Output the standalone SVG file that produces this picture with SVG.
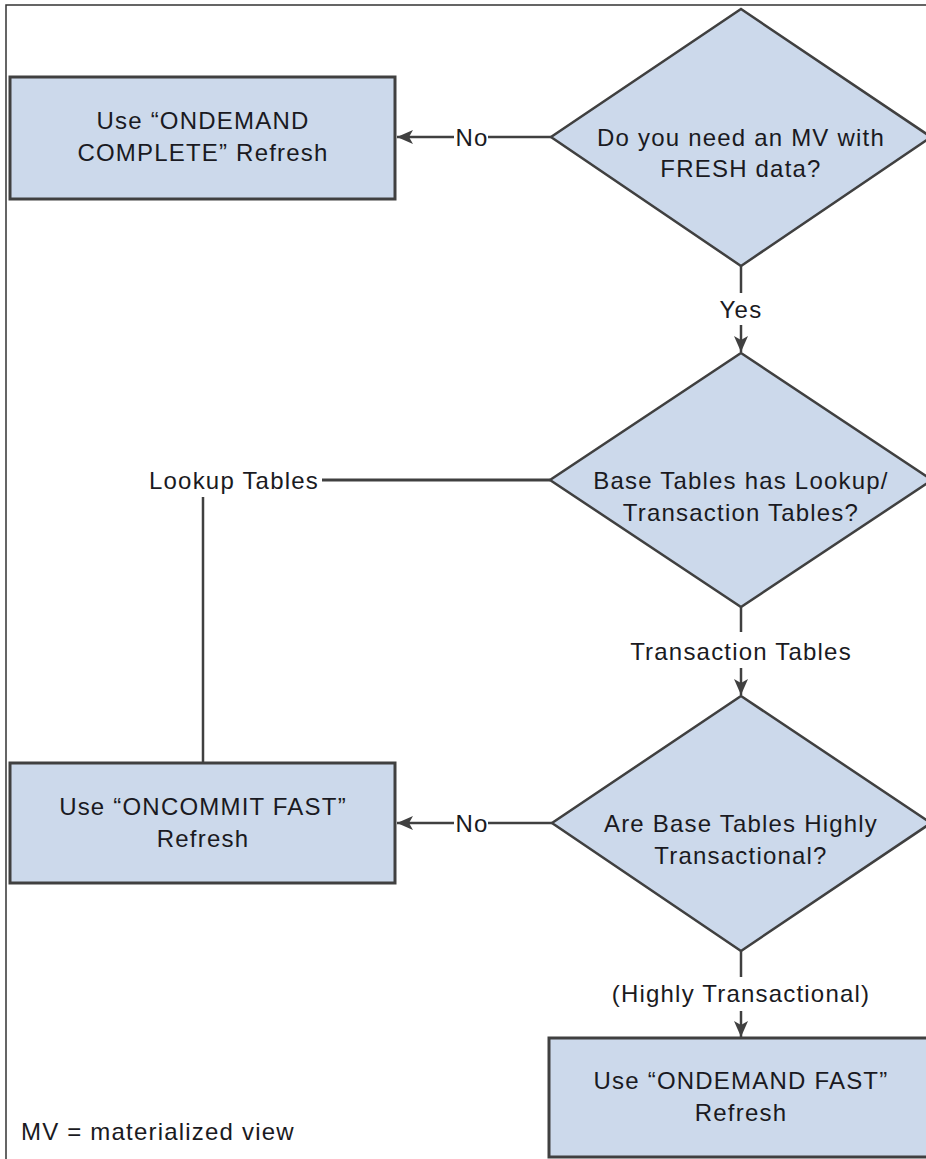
<svg xmlns="http://www.w3.org/2000/svg" width="926" height="1159" viewBox="0 0 926 1159">
<style>
.node{fill:#CCD9EB;stroke:#404040;stroke-width:2.5}
.box{fill:#CCD9EB;stroke:#404040;stroke-width:3}
.t{font-family:"Liberation Sans",Arial,sans-serif;font-size:24px;letter-spacing:1.2px;fill:#1a1a22;text-anchor:middle}
.l{fill:none;stroke:#404040;stroke-width:2.5}
</style>
<defs>
<marker id="ah" viewBox="0 0 16 16" refX="16" refY="8" markerWidth="16" markerHeight="16" markerUnits="userSpaceOnUse" orient="auto">
<path d="M0,1 L16,8 L0,15 L4,8 z" fill="#404040"/>
</marker>
</defs>
<rect width="926" height="1159" fill="#fff"/>
<path d="M6,1159 V5 H926" fill="none" stroke="#333" stroke-width="1.5"/>

<g id="box1">
<rect class="box" x="10" y="77" width="385" height="122"/>
<text class="t" x="203" y="129">Use “ONDEMAND</text>
<text class="t" x="203" y="161">COMPLETE” Refresh</text>
</g>
<g id="d1">
<polygon class="node" points="741,9 931,137 741,266 551,137"/>
<text class="t" x="741" y="146">Do you need an MV with</text>
<text class="t" x="741" y="177">FRESH data?</text>
</g>
<g id="d2">
<polygon class="node" points="741,353 932,480 741,607 550,480"/>
<text class="t" x="741" y="489">Base Tables has Lookup/</text>
<text class="t" x="741" y="521">Transaction Tables?</text>
</g>
<g id="box2">
<rect class="box" x="10" y="763" width="385" height="120"/>
<text class="t" x="203" y="815">Use “ONCOMMIT FAST”</text>
<text class="t" x="203" y="847">Refresh</text>
</g>
<g id="d3">
<polygon class="node" points="741,696 931,823 741,951 552,823"/>
<text class="t" x="741" y="832">Are Base Tables Highly</text>
<text class="t" x="741" y="864">Transactional?</text>
</g>
<g id="box3">
<rect class="box" x="549" y="1038" width="400" height="119"/>
<text class="t" x="741" y="1089">Use “ONDEMAND FAST”</text>
<text class="t" x="741" y="1121">Refresh</text>
</g>
<g id="note">
<text class="t" x="21" y="1140" style="text-anchor:start">MV = materialized view</text>
</g>

<g id="connectors">
<line class="l" x1="551" y1="137" x2="488" y2="137"/>
<line class="l" x1="454" y1="137" x2="397" y2="137" marker-end="url(#ah)"/>
<text class="t" x="472" y="146">No</text>

<line class="l" x1="741" y1="266" x2="741" y2="293"/>
<text class="t" x="741" y="318">Yes</text>
<line class="l" x1="741" y1="325" x2="741" y2="352" marker-end="url(#ah)"/>

<line class="l" x1="550" y1="480" x2="322" y2="480" style="stroke-width:3"/>
<text class="t" x="234" y="489">Lookup Tables</text>
<line class="l" x1="203" y1="497" x2="203" y2="763"/>

<line class="l" x1="741" y1="607" x2="741" y2="632"/>
<text class="t" x="741" y="660">Transaction Tables</text>
<line class="l" x1="741" y1="668" x2="741" y2="695" marker-end="url(#ah)"/>

<line class="l" x1="552" y1="823" x2="488" y2="823"/>
<line class="l" x1="454" y1="823" x2="397" y2="823" marker-end="url(#ah)"/>
<text class="t" x="472" y="832">No</text>

<line class="l" x1="741" y1="951" x2="741" y2="977"/>
<text class="t" x="741" y="1002">(Highly Transactional)</text>
<line class="l" x1="741" y1="1011" x2="741" y2="1037" marker-end="url(#ah)"/>
</g>
</svg>
